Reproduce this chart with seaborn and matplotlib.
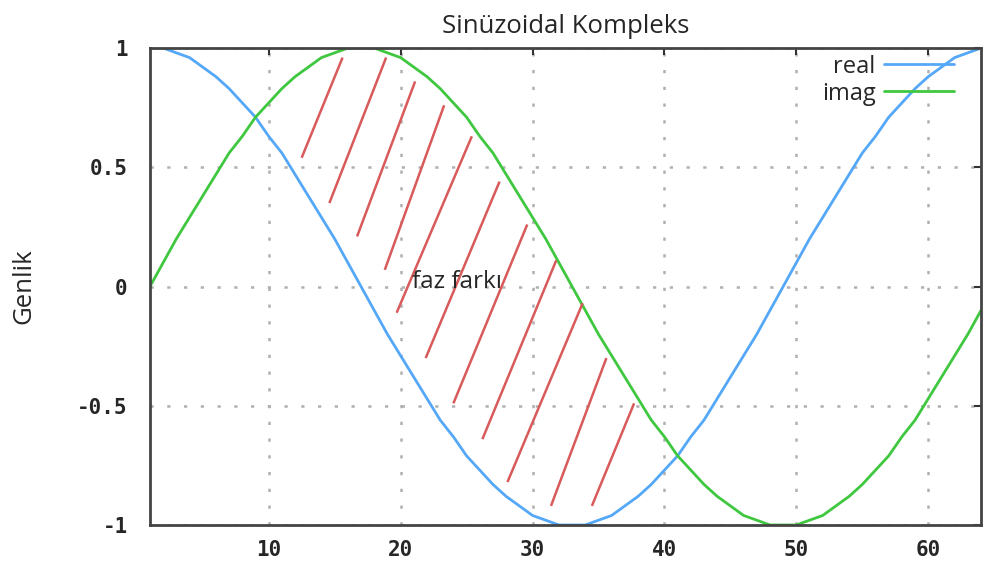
import numpy as np
import pandas as pd
import seaborn as sns
import matplotlib.pyplot as plt

sns.set_style("white")

# sample index on the x axis
n = list(range(1, 65))

# values
real = [1.00, 1.00, 0.98, 0.96, 0.92, 0.88, 0.83, 0.77, 0.71, 0.63, 0.56, 0.47, 0.38, 0.29, 0.20, 0.10,
        0.00, -0.10, -0.20, -0.29, -0.38, -0.47, -0.56, -0.63, -0.71, -0.77, -0.83, -0.88, -0.92, -0.96, -0.98, -1.00,
        -1.00, -1.00, -0.98, -0.96, -0.92, -0.88, -0.83, -0.77, -0.71, -0.63, -0.56, -0.47, -0.38, -0.29, -0.20, -0.10,
        0.00, 0.10, 0.20, 0.29, 0.38, 0.47, 0.56, 0.63, 0.71, 0.77, 0.83, 0.88, 0.92, 0.96, 0.98, 1.00]
imag = [0.00, 0.10, 0.20, 0.29, 0.38, 0.47, 0.56, 0.63, 0.71, 0.77, 0.83, 0.88, 0.92, 0.96, 0.98, 1.00,
        1.00, 1.00, 0.98, 0.96, 0.92, 0.88, 0.83, 0.77, 0.71, 0.63, 0.56, 0.47, 0.38, 0.29, 0.20, 0.10,
        0.00, -0.10, -0.20, -0.29, -0.38, -0.47, -0.56, -0.63, -0.71, -0.77, -0.83, -0.88, -0.92, -0.96, -0.98, -1.00,
        -1.00, -1.00, -0.98, -0.96, -0.92, -0.88, -0.83, -0.77, -0.71, -0.63, -0.56, -0.47, -0.38, -0.29, -0.20, -0.10]

# hand drawn hatch strokes marking the phase difference (data coords)
hatch_x0 = [12.5, 14.6, 16.7, 18.8, 19.7, 21.9, 24.0, 26.2, 28.1, 31.4, 34.5]
hatch_y0 = [0.54, 0.35, 0.21, 0.07, -0.11, -0.30, -0.49, -0.64, -0.82, -0.92, -0.92]
hatch_x1 = [15.6, 18.9, 21.1, 23.3, 25.4, 27.5, 29.6, 31.8, 33.8, 35.6, 37.7]
hatch_y1 = [0.96, 0.96, 0.86, 0.76, 0.63, 0.44, 0.26, 0.11, -0.07, -0.30, -0.49]

xticks = [10, 20, 30, 40, 50, 60]
yticks = [-1, -0.5, 0, 0.5, 1]
ytick_labels = ["-1", "-0.5", "0", "0.5", "1"]

df = pd.DataFrame({"n": n * 2, "val": real + imag,
                   "seri": ["real"] * 64 + ["imag"] * 64})

fig = plt.figure(figsize=(9.84, 5.72), dpi=100)
ax = fig.add_axes([0.1524, 0.0822, 0.8446, 0.8338])

sns.lineplot(data=df, x="n", y="val", hue="seri", ax=ax,
             palette={"real": "#55a8f8", "imag": "#3fc83f"}, linewidth=2)

for a, b, c, d in zip(hatch_x0, hatch_y0, hatch_x1, hatch_y1):
    ax.plot([a, c], [b, d], color="#d95a5a", linewidth=1.8, solid_capstyle="butt")

ax.set_xlim(1, 64)
ax.set_ylim(-1, 1)
ax.set_xticks(xticks)
ax.set_yticks(yticks)
ax.set_yticklabels(ytick_labels)
ax.grid(True, color="#b0b0b0", linestyle=(0, (1.3, 5.4)), linewidth=1.8)
for lab in ax.get_xticklabels() + ax.get_yticklabels():
    lab.set_fontfamily("DejaVu Sans Mono")
    lab.set_fontweight("bold")
    lab.set_fontsize(15)
ax.tick_params(axis="both", direction="in", length=5, width=1.5, color="#333333",
               top=True, right=True)
ax.tick_params(axis="x", pad=11)
ax.tick_params(axis="y", pad=16)
for s in ax.spines.values():
    s.set_color("#444444")
    s.set_linewidth(2)

ax.set_xlabel("")
ax.set_ylabel("Genlik", fontfamily="Open Sans", fontsize=18.5)
ax.yaxis.set_label_coords(-0.137, 0.5)
ax.set_title("Sinüzoidal Kompleks", fontfamily="Open Sans", fontsize=18.5, pad=11)
ax.text(24.3, 0.02, "faz farkı", fontfamily="Open Sans", fontsize=17.5,
        ha="center", va="center")

leg = ax.legend(loc="upper right", bbox_to_anchor=(0.9675, 0.986), frameon=False,
                markerfirst=False, handlelength=2.95, handletextpad=0.37,
                borderaxespad=0, borderpad=0, labelspacing=0.12,
                prop={"family": "Open Sans", "size": 17})

fig.savefig("out.png", dpi=100)
